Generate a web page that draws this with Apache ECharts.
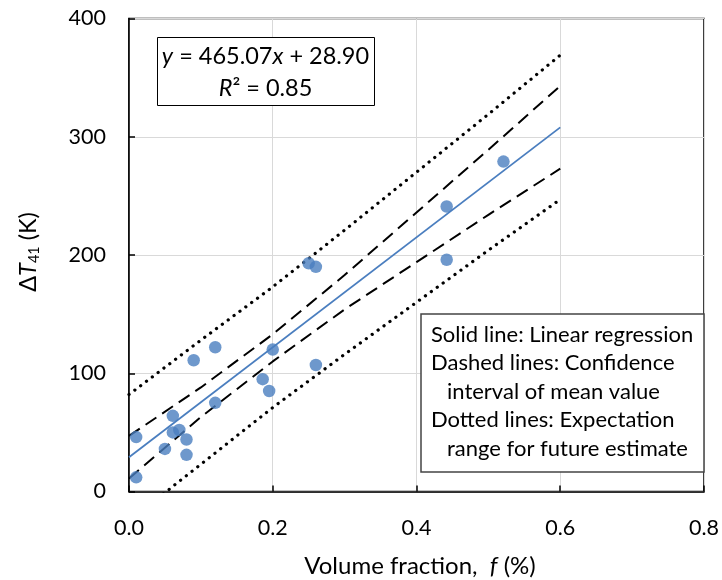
<!DOCTYPE html>
<html><head><meta charset="utf-8">
<script src="https://cdn.jsdelivr.net/npm/echarts@6/dist/echarts.min.js"></script>
<style>html,body{margin:0;padding:0;background:#fff}#c{width:722px;height:580px}</style>
</head><body><div id="c"></div>
<script>
// measured points: volume fraction f (%) vs ΔT41 (K)
const pointX = [0.01, 0.01, 0.05, 0.061, 0.061, 0.07, 0.08, 0.08, 0.09, 0.12, 0.12, 0.186, 0.195, 0.2, 0.25, 0.26, 0.26, 0.442, 0.442, 0.521];
const pointY = [12, 46, 36, 64, 50, 52, 44, 31, 111, 122, 75, 95, 85, 120, 193, 190, 107, 241, 196, 279];
// regression line y = 465.07x + 28.90
const fitX = [0, 0.6];
const fitY = [28.9, 307.9];
// confidence (dashed) and expectation (dotted) bands
const bandX = [0, 0.1, 0.2, 0.3, 0.4, 0.5, 0.6];
const ciUpper = [47, 88, 133, 183, 236, 289, 343];
const ciLower = [11, 63, 110, 154, 194, 234, 273];
const piUpper = [82, 128, 173, 221, 270, 319, 369];
const piLower = [-25, 23, 71, 116, 160, 204, 247];
const xTickLabels = ['0.0', '0.2', '0.4', '0.6', '0.8'];
const yTickLabels = ['0', '100', '200', '300', '400'];

const FONT = 'Lato';
const BLUE = '#4a7ebf';
const zip = (xs, ys) => xs.map((x, i) => [x, ys[i]]);

const chart = echarts.init(document.getElementById('c'));
const lineSeries = (data, style, z) => ({
  type: 'line', data, symbol: 'none', silent: true, z,
  lineStyle: style, clip: true, animation: false
});
const legendText = (x, y, text) => ({type: 'text', x, y, z: 11, style: {text, textVerticalAlign: 'middle', fontFamily: FONT, fontSize: 22, fill: '#000'}});
chart.setOption({
  animation: false,
  backgroundColor: '#fff',
  grid: {left: 129, right: 17.5, top: 18.5, bottom: 88.5, show: true, borderColor: '#000', borderWidth: 1.5, containLabel: false},
  xAxis: {
    type: 'value', min: 0, max: 0.8, interval: 0.2,
    axisLine: {show: true, onZero: false, lineStyle: {color: '#000', width: 1.5}},
    axisTick: {show: true, inside: true, length: 6, lineStyle: {color: '#000', width: 1.5}},
    axisLabel: {margin: 26, color: '#000', fontFamily: FONT, fontSize: 21.5,
      formatter: (v) => xTickLabels[Math.round(v / 0.2)]},
    splitLine: {show: true, lineStyle: {color: '#d9d9d9', width: 1}}
  },
  yAxis: {
    type: 'value', min: 0, max: 400, interval: 100,
    axisLine: {show: true, onZero: false, lineStyle: {color: '#000', width: 1.5}},
    axisTick: {show: true, inside: true, length: 6, lineStyle: {color: '#000', width: 1.5}},
    axisLabel: {margin: 23, color: '#000', fontFamily: FONT, fontSize: 21.5,
      formatter: (v) => yTickLabels[Math.round(v / 100)]},
    splitLine: {show: true, lineStyle: {color: '#d9d9d9', width: 1}}
  },
  series: [
    lineSeries(zip(bandX, piUpper), {color: '#000', width: 3.2, type: [0.1, 7.2], cap: 'round'}, 2),
    lineSeries(zip(bandX, piLower), {color: '#000', width: 3.2, type: [0.1, 7.2], cap: 'round'}, 2),
    lineSeries(zip(bandX, ciUpper), {color: '#000', width: 2, type: [13, 7]}, 2),
    lineSeries(zip(bandX, ciLower), {color: '#000', width: 2, type: [13, 7]}, 2),
    lineSeries(zip(fitX, fitY), {color: BLUE, width: 1.8, type: 'solid'}, 3),
    {type: 'scatter', data: zip(pointX, pointY), symbol: 'circle', symbolSize: 12.5,
      itemStyle: {color: BLUE}, z: 5, silent: true}
  ],
  graphic: [
    // equation box
    {type: 'rect', shape: {x: 157.5, y: 37.5, width: 217, height: 68}, style: {fill: '#fff', stroke: '#000', lineWidth: 1}, z: 10},
    {type: 'text', x: 265.5, y: 56, z: 11, style: {
      text: '{i|y} = 465.07{i|x} + 28.90', textAlign: 'center', textVerticalAlign: 'middle',
      fontFamily: FONT, fontSize: 23.5, fill: '#000',
      rich: {i: {fontStyle: 'italic', fontFamily: FONT, fontSize: 23.5}}}},
    {type: 'text', x: 265.5, y: 88, z: 11, style: {
      text: '{i|R}² = 0.85', textAlign: 'center', textVerticalAlign: 'middle',
      fontFamily: FONT, fontSize: 23.5, fill: '#000',
      rich: {i: {fontStyle: 'italic', fontFamily: FONT, fontSize: 23.5}}}},
    // legend/explanation box
    {type: 'rect', shape: {x: 421, y: 314, width: 283, height: 158}, style: {fill: '#fff', stroke: '#444', lineWidth: 1.5}, z: 10},
    legendText(431, 334.5, 'Solid line: Linear regression'),
    legendText(431, 363, 'Dashed lines: Confidence'),
    legendText(447, 391.5, 'interval of mean value'),
    legendText(431, 420, 'Dotted lines: Expectation'),
    legendText(447, 448.5, 'range for future estimate'),
    // axis titles
    {type: 'text', x: 420, y: 566, z: 11, style: {
      text: 'Volume fraction,  {i|f} (%)', textAlign: 'center', textVerticalAlign: 'middle',
      fontFamily: FONT, fontSize: 24, fill: '#000',
      rich: {i: {fontStyle: 'italic', fontFamily: FONT, fontSize: 24}}}},
    {type: 'text', x: 28, y: 252, rotation: Math.PI / 2, z: 11, style: {
      text: 'Δ{i|T}{s|41} (K)', textAlign: 'center', textVerticalAlign: 'middle',
      fontFamily: FONT, fontSize: 23.5, fill: '#000',
      rich: {i: {fontStyle: 'italic', fontFamily: FONT, fontSize: 23.5},
             s: {fontFamily: FONT, fontSize: 14.5, padding: [12, 0, 0, 0]}}}}
  ]
});
</script></body></html>
